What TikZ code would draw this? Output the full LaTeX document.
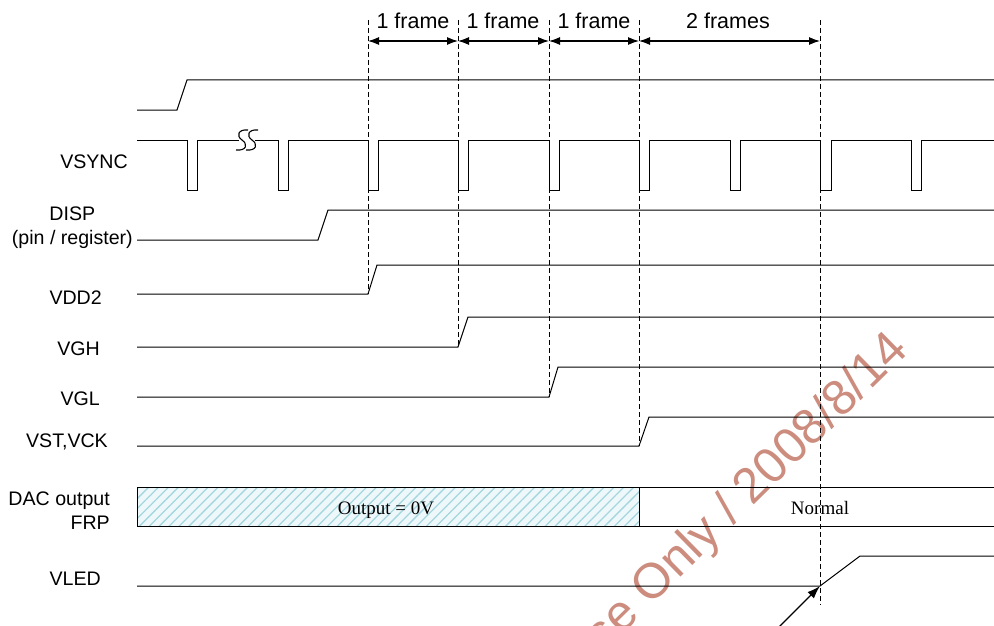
\documentclass[tikz,border=0pt]{standalone}
\usepackage{fontspec}
\setmainfont{Liberation Sans}
\newfontfamily\tnr{Liberation Serif}
\usetikzlibrary{arrows.meta,patterns.meta}
\definecolor{hatchc}{RGB}{165,214,222}
\definecolor{hatchbg}{RGB}{238,248,250}
\definecolor{wmark}{RGB}{204,140,126}
\begin{document}
\begin{tikzpicture}[x=1pt,y=-1pt,
 sig/.style={line width=1pt, line join=miter},
 guide/.style={line width=0.9pt, dash pattern=on 5pt off 3pt},
 dimarrow/.style={line width=1.2pt, {Latex[length=11pt,width=8pt]}-{Latex[length=11pt,width=8pt]}},
 lbl/.style={font=\fontsize{19.6}{24}\selectfont, inner sep=0pt, anchor=base east},
 toplbl/.style={font=\fontsize{21.5}{26}\selectfont, inner sep=0pt, anchor=base},
 ser/.style={font=\tnr\fontsize{19}{23}\selectfont, inner sep=0pt, anchor=base},
]
\useasboundingbox (0,0) rectangle (994,626);
\clip (0,0) rectangle (994,626);
\fill[white] (0,0) rectangle (994,626);

% watermark (behind)
\node[rotate=44.5, text=wmark, font=\fontsize{49.5}{54}\selectfont, inner sep=0pt, anchor=base east] (wm) at (910,352) {se Only / 2008/8/14};

% guide coordinates
\coordinate (g1) at (368,20); \coordinate (g1b) at (368,294);
\coordinate (g2) at (458,20); \coordinate (g2b) at (458,347);
\coordinate (g3) at (549,20); \coordinate (g3b) at (549,397);
\coordinate (g4) at (639,20); \coordinate (g4b) at (639,446);
\coordinate (g5) at (820,20); \coordinate (g5b) at (820,605);
\coordinate (a1) at (368,41); \coordinate (a2) at (458,41);
\coordinate (a3) at (549,41); \coordinate (a4) at (639,41);
\coordinate (a5) at (820,41);

% top labels
\node[toplbl] (f1) at (413,29) {1 frame};
\node[toplbl] (f2) at (503,29) {1 frame};
\node[toplbl] (f3) at (594,29) {1 frame};
\node[toplbl] (f4) at (728,29) {2 frames};

\draw[dimarrow] (a1) -- (a2);
\draw[dimarrow] (a2) -- (a3);
\draw[dimarrow] (a3) -- (a4);
\draw[dimarrow] (a4) -- (a5);

% left labels
\node[lbl] (lvsync) at (128,168) {VSYNC};
\node[lbl, align=center] (ldisp) at (133,244) {DISP\\(pin / register)};
\node[lbl] (lvdd) at (102,304) {VDD2};
\node[lbl] (lvgh) at (100,355) {VGH};
\node[lbl] (lvgl) at (100,405) {VGL};
\node[lbl] (lvst) at (108,447) {VST,VCK};
\node[lbl, align=right] (ldac) at (110,529) {DAC output\\FRP};
\node[lbl] (lvled) at (101,585) {VLED};

% top unnamed signal
\draw[sig] (137,110) -- (177,110) -- (187,80) -- (994,80);

% VSYNC
\draw[sig] (137,140) -- (187,140) -- (187,190) -- (197,190) -- (197,140) -- (239,140);
\draw[line width=1.1pt] (248,130) .. controls (238,129) and (236,136) .. (242,140) .. controls (248,144) and (247,151) .. (236,150);
\draw[line width=1.1pt] (258,130) .. controls (248,129) and (246,136) .. (252,140) .. controls (258,144) and (257,151) .. (246,150);
\draw[sig] (255,140) -- (278,140)
  -- (278,190) -- (288,190) -- (288,140) -- (368,140)
  -- (368,190) -- (378,190) -- (378,140) -- (458,140)
  -- (458,190) -- (468,190) -- (468,140) -- (549,140)
  -- (549,190) -- (559,190) -- (559,140) -- (639,140)
  -- (639,190) -- (649,190) -- (649,140) -- (730,140)
  -- (730,190) -- (740,190) -- (740,140) -- (820,140)
  -- (820,190) -- (831,190) -- (831,140) -- (911,140)
  -- (911,190) -- (921,190) -- (921,140) -- (994,140);

% DISP
\draw[sig] (137,240) -- (318,240) -- (328,210) -- (994,210);
% VDD2
\draw[sig] (137,294) -- (368,294) -- (377,265) -- (994,265);
% VGH
\draw[sig] (137,347) -- (458,347) -- (468,317) -- (994,317);
% VGL
\draw[sig] (137,397) -- (549,397) -- (558,367) -- (994,367);
% VST,VCK
\draw[sig] (137,446) -- (639,446) -- (649,417) -- (994,417);

% DAC output / FRP
\fill[hatchbg] (137,487) rectangle (639,526);
\fill[pattern={Lines[angle=45,distance=7pt,line width=1.3pt]}, pattern color=hatchc] (137,487) rectangle (639,526);
\draw[sig] (994,487) -- (137,487) -- (137,526) -- (994,526);
\draw[sig] (639,487) -- (639,526);
\node[ser] (out0) at (386,514) {Output = 0V};
\node[ser] (norm) at (820,514) {Normal};

% VLED
\draw[sig] (137,586) -- (820,586) -- (860,556) -- (994,556);
\coordinate (ledstart) at (820,586);
\coordinate (arrtail) at (760,646);
\draw[line width=1.3pt, -{Latex[length=13pt,width=9pt]}] (arrtail) -- (ledstart);

% dashed guides
\draw[guide] (g1) -- (g1b);
\draw[guide] (g2) -- (g2b);
\draw[guide] (g3) -- (g3b);
\draw[guide] (g4) -- (g4b);
\draw[guide] (g5) -- (g5b);
\end{tikzpicture}
\end{document}
